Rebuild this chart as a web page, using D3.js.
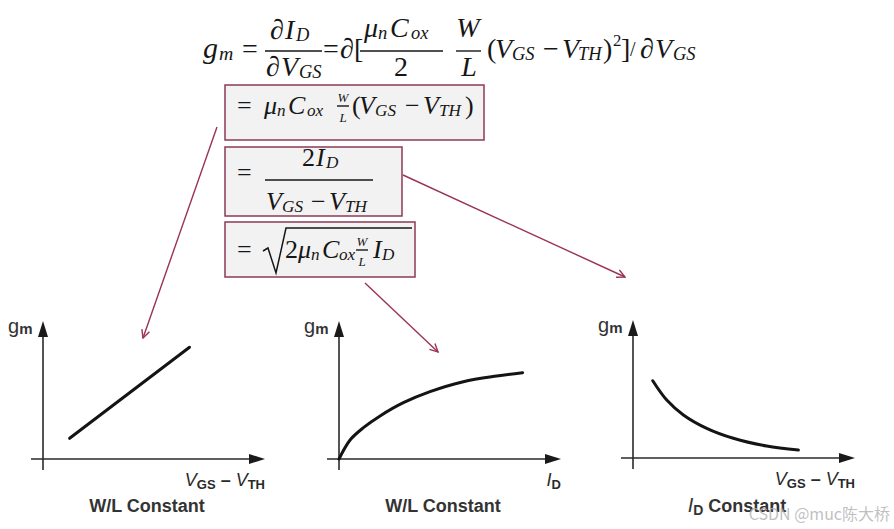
<!DOCTYPE html>
<html>
<head>
<meta charset="utf-8">
<script src="https://cdn.jsdelivr.net/npm/d3@7"></script>
<style>
  body { margin: 0; background: #fff; }
  svg { display: block; }
</style>
</head>
<body>
<svg id="chart" width="894" height="529"></svg>
<script>
// values, data units 0..10 on both axes
const linearX = [1.2, 6.6];
const linearY = [1.5, 8.1];
const sqrtX = [0, 0.5, 1.1, 1.85, 2.9, 4.1, 5.6, 7.1, 8.27];
const sqrtY = [0, 1.38, 2.27, 3.12, 4.08, 4.88, 5.6, 6.01, 6.25];
const invX = [0.89, 1.52, 2.27, 3.32, 4.52, 6.02, 7.45];
const invY = [5.6, 4.2, 3.12, 2.15, 1.43, 0.87, 0.58];
const xLabels = ['VGS', 'ID', 'VGS'];
const captions = ['W/L Constant', 'W/L Constant', 'ID Constant'];

const svg = d3.select('#chart');
const serif = '"Liberation Serif", "Times New Roman", serif';
const sans = '"Liberation Sans", Arial, sans-serif';
const ink = '#161616';
const boxLine = '#8c3a58';
const arrowCol = '#9a3357';

// formula helper: parts = [text, kind, x]; kinds: i italic, s subscript, r roman, p superscript
function put(g, y, parts, size, anchor) {
  const t = g.append('text')
    .attr('y', y)
    .attr('font-family', serif)
    .attr('font-size', size)
    .attr('fill', ink)
    .attr('text-anchor', anchor || 'start');
  parts.forEach(p => {
    const kind = p[1];
    let off = 0, fs = size, style = 'italic';
    if (kind === 's') { off = size * 0.07; fs = size * 0.66; }
    if (kind === 'p') { off = -size * 0.42; fs = size * 0.6; style = 'normal'; }
    if (kind === 'r') { style = 'normal'; }
    t.append('tspan')
      .attr('x', p[2])
      .attr('y', y + off)
      .attr('font-size', fs)
      .attr('font-style', style)
      .text(p[0]);
  });
  return t;
}

function bar(g, x1, x2, y) {
  g.append('line')
    .attr('x1', x1).attr('x2', x2).attr('y1', y).attr('y2', y)
    .attr('stroke', ink).attr('stroke-width', 1.4);
}

// ---------- top equation ----------
const eq = svg.append('g');
put(eq, 58, [['g', 'i', 203], ['m', 's', 219]], 30);
put(eq, 58, [['=', 'r', 242]], 28);
put(eq, 39, [['∂', 'r', 270], ['I', 'i', 285], ['D', 's', 296]], 28);
bar(eq, 265, 322, 51);
put(eq, 76, [['∂', 'r', 266], ['V', 'i', 281], ['GS', 's', 299]], 28);
put(eq, 58, [['=', 'r', 323]], 28);
put(eq, 58, [['∂', 'r', 340], ['[', 'r', 354]], 28);
put(eq, 37, [['μ', 'i', 364], ['n', 's', 378], ['C', 'i', 390], ['ox', 's', 411]], 28);
bar(eq, 360, 443, 51);
put(eq, 76, [['2', 'r', 401]], 28, 'middle');
put(eq, 37, [['W', 'i', 468]], 28, 'middle');
bar(eq, 456, 481, 51);
put(eq, 76, [['L', 'i', 469]], 28, 'middle');
put(eq, 58, [
  ['(', 'r', 487], ['V', 'i', 495], ['GS', 's', 512], ['−', 'r', 543],
  ['V', 'i', 562], ['TH', 's', 578], [')', 'r', 603], ['2', 'p', 613], [']', 'r', 621]
], 28);
put(eq, 56, [['/', 'r', 630]], 20);
put(eq, 58, [['∂', 'r', 640], ['V', 'i', 655], ['GS', 's', 673]], 28);

// ---------- boxed steps ----------
const boxes = [[225, 85, 259, 55], [225, 147, 177, 69], [225, 222, 190, 55]];
boxes.forEach(b => {
  svg.append('rect')
    .attr('x', b[0]).attr('y', b[1]).attr('width', b[2]).attr('height', b[3])
    .attr('fill', '#f3f2f2').attr('stroke', boxLine).attr('stroke-width', 1.5);
});

const bx = svg.append('g');
put(bx, 114, [['=', 'r', 237]], 26);
put(bx, 114, [['μ', 'i', 264], ['n', 's', 277], ['C', 'i', 288], ['ox', 's', 307]], 26);
put(bx, 102, [['W', 'i', 343]], 13, 'middle');
bar(bx, 337, 349, 106);
put(bx, 122, [['L', 'i', 343]], 13, 'middle');
put(bx, 114, [
  ['(', 'r', 352], ['V', 'i', 359], ['GS', 's', 375], ['−', 'r', 405],
  ['V', 'i', 423], ['TH', 's', 439], [')', 'r', 465]
], 26);

put(bx, 181, [['=', 'r', 237]], 26);
put(bx, 166, [['2', 'r', 302], ['I', 'i', 316], ['D', 's', 326]], 26);
bar(bx, 265, 373, 180);
put(bx, 210, [['V', 'i', 266], ['GS', 's', 282], ['−', 'r', 311], ['V', 'i', 329], ['TH', 's', 345]], 26);

put(bx, 258, [['=', 'r', 237]], 26);
bx.append('path')
  .attr('d', 'M263,251 L268,248 L276,273 L286,228 L412,228')
  .attr('fill', 'none').attr('stroke', ink).attr('stroke-width', 1.5);
put(bx, 258, [['2', 'r', 285], ['μ', 'i', 298], ['n', 's', 311], ['C', 'i', 322], ['ox', 's', 339]], 26);
put(bx, 246, [['W', 'i', 362]], 13, 'middle');
bar(bx, 356, 368, 250);
put(bx, 266, [['L', 'i', 362]], 13, 'middle');
put(bx, 258, [['I', 'i', 373], ['D', 's', 382]], 26);

// ---------- arrows ----------
svg.append('defs').append('marker')
  .attr('id', 'head').attr('viewBox', '0 0 10 10')
  .attr('refX', 9).attr('refY', 5)
  .attr('markerWidth', 10).attr('markerHeight', 10)
  .attr('markerUnits', 'userSpaceOnUse')
  .attr('orient', 'auto')
  .append('path')
  .attr('d', 'M1,1 L9,5 L1,9')
  .attr('fill', 'none').attr('stroke', arrowCol).attr('stroke-width', 1.4);

[[217, 127, 143, 338], [365, 283, 438, 352], [403, 175, 625, 277]].forEach(a => {
  svg.append('line')
    .attr('x1', a[0]).attr('y1', a[1]).attr('x2', a[2]).attr('y2', a[3])
    .attr('stroke', arrowCol).attr('stroke-width', 1.4)
    .attr('marker-end', 'url(#head)');
});

// ---------- three small plots ----------
const smooth = d3.curveCatmullRom.alpha(0.5);
const panels = [
  {ox: 43, oy: 459, xs: linearX, ys: linearY, curve: d3.curveLinear},
  {ox: 339, oy: 459, xs: sqrtX, ys: sqrtY, curve: smooth},
  {ox: 633, oy: 458, xs: invX, ys: invY, curve: smooth}
];
const w = 222, h = 138;

panels.forEach((p, k) => {
  const g = svg.append('g');
  const x = d3.scaleLinear().domain([0, 10]).range([p.ox, p.ox + w]);
  const y = d3.scaleLinear().domain([0, 10]).range([p.oy, p.oy - h]);

  // axes
  g.append('line')
    .attr('x1', p.ox - 12).attr('x2', x(10) - 10).attr('y1', p.oy).attr('y2', p.oy)
    .attr('stroke', '#2a2a2a').attr('stroke-width', 1.6);
  g.append('line')
    .attr('x1', p.ox).attr('x2', p.ox).attr('y1', p.oy + 11).attr('y2', y(10) + 10)
    .attr('stroke', '#2a2a2a').attr('stroke-width', 1.6);
  g.append('path')
    .attr('d', `M${x(10)},${p.oy} L${x(10) - 16},${p.oy - 5} L${x(10) - 16},${p.oy + 5} Z`)
    .attr('fill', '#1a1a1a');
  g.append('path')
    .attr('d', `M${p.ox},${y(10)} L${p.ox - 5},${y(10) + 16} L${p.ox + 5},${y(10) + 16} Z`)
    .attr('fill', '#1a1a1a');

  // curve
  const pts = p.xs.map((v, i) => [v, p.ys[i]]);
  g.append('path')
    .datum(pts)
    .attr('d', d3.line().x(d => x(d[0])).y(d => y(d[1])).curve(p.curve))
    .attr('fill', 'none').attr('stroke', '#141414').attr('stroke-width', 3)
    .attr('stroke-linecap', 'round');

  // gm label
  const gl = g.append('text')
    .attr('x', p.ox - 35).attr('y', y(10) + 12)
    .attr('font-family', sans).attr('fill', '#333');
  gl.append('tspan').attr('font-size', 20).text('g');
  gl.append('tspan').attr('font-size', 15).attr('font-weight', 'bold').attr('dy', 1).text('m');

  // x label
  const xl = g.append('text')
    .attr('x', x(10)).attr('y', p.oy + 27)
    .attr('text-anchor', 'end')
    .attr('font-family', sans).attr('fill', '#2a2a2a').attr('font-size', 18);
  if (xLabels[k] === 'VGS') {
    xl.append('tspan').attr('font-style', 'italic').text('V');
    xl.append('tspan').attr('font-size', 13).attr('font-weight', 'bold').attr('dy', 3).text('GS');
    xl.append('tspan').attr('dy', -3).attr('font-weight', 'bold').text(' – ');
    xl.append('tspan').attr('font-style', 'italic').text('V');
    xl.append('tspan').attr('font-size', 13).attr('font-weight', 'bold').attr('dy', 3).text('TH');
  } else {
    xl.append('tspan').attr('font-style', 'italic').text('I');
    xl.append('tspan').attr('font-size', 13).attr('font-weight', 'bold').attr('dy', 3).text('D');
  }

  // caption
  const cx = [147, 443, 737][k];
  const cap = g.append('text')
    .attr('x', cx).attr('y', 512)
    .attr('text-anchor', 'middle')
    .attr('font-family', sans).attr('font-weight', 'bold')
    .attr('fill', '#333').attr('font-size', 18);
  if (captions[k].startsWith('ID')) {
    cap.append('tspan').attr('font-style', 'italic').attr('font-weight', 'normal').attr('font-size', 20).text('I');
    cap.append('tspan').attr('font-size', 14).attr('dy', 3).text('D');
    cap.append('tspan').attr('dy', -3).text(' Constant');
  } else {
    cap.text(captions[k]);
  }
});

// watermark
svg.append('text')
  .attr('x', 890).attr('y', 520)
  .attr('text-anchor', 'end')
  .attr('font-family', '"Noto Sans CJK SC", "Noto Sans", sans-serif')
  .attr('font-size', 16)
  .attr('fill', '#b4b4b4')
  .attr('fill-opacity', 0.85)
  .text('CSDN @muc陈大桥');
</script>
</body>
</html>
